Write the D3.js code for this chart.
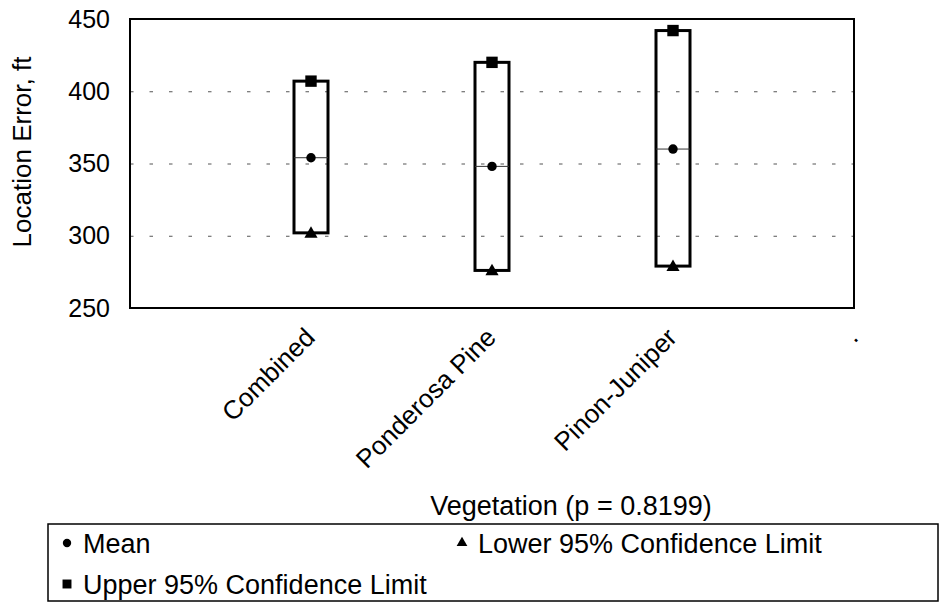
<!DOCTYPE html>
<html>
<head>
<meta charset="utf-8">
<script src="https://cdn.jsdelivr.net/npm/d3@7"></script>
<style>
  body { margin: 0; background: #fff; }
  svg text { font-family: "Liberation Sans", Arial, sans-serif; fill: #000; }
</style>
</head>
<body>
<div id="chart"></div>
<script>
// values
const tickLabels = ["", "Combined", "Ponderosa Pine", "Pinon-Juniper", "."];
const categories = ["Combined", "Ponderosa Pine", "Pinon-Juniper"];
const meanVals = [354, 348, 360];
const lowerVals = [302, 276, 279];
const upperVals = [407, 420, 442];
const yTicks = [250, 300, 350, 400, 450];
const gridVals = [300, 350, 400];
const legendLabels = ["Mean", "Lower 95% Confidence Limit", "Upper 95% Confidence Limit"];

const W = 942, H = 608;
const plot = { left: 130, right: 854, top: 19, bottom: 308 };

const svg = d3
  .select("#chart")
  .append("svg")
  .attr("width", W)
  .attr("height", H);

const x = d3
  .scalePoint()
  .domain(tickLabels)
  .range([plot.left, plot.right])
  .padding(0);

const y = d3
  .scaleLinear()
  .domain([250, 450])
  .range([plot.bottom, plot.top]);

// dashed gridlines
svg
  .append("g")
  .attr("transform", "translate(" + plot.left + ",0)")
  .call(d3.axisLeft(y).tickValues(gridVals).tickSize(-(plot.right - plot.left)).tickFormat(""))
  .call(g => g.select(".domain").remove())
  .selectAll("line")
  .attr("stroke", "#555")
  .attr("stroke-width", 1)
  .attr("stroke-dasharray", "3.5,16");

// y axis labels
svg
  .append("g")
  .attr("transform", "translate(" + plot.left + ",0)")
  .call(d3.axisLeft(y).tickValues(yTicks).tickSize(0).tickPadding(20))
  .call(g => g.select(".domain").remove())
  .selectAll("text")
  .style("font-size", "25px");

// x axis labels, rotated
svg
  .append("g")
  .attr("transform", "translate(0," + plot.bottom + ")")
  .call(d3.axisBottom(x).tickSize(0))
  .call(g => g.select(".domain").remove())
  .selectAll("text")
  .style("font-size", "26px")
  .attr("x", 0)
  .attr("y", 0)
  .attr("dy", 0)
  .attr("text-anchor", "end")
  .attr("transform", "translate(5,31) rotate(-45)");

// plot frame
svg
  .append("rect")
  .attr("x", plot.left)
  .attr("y", plot.top)
  .attr("width", plot.right - plot.left)
  .attr("height", plot.bottom - plot.top)
  .attr("fill", "none")
  .attr("stroke", "#000")
  .attr("stroke-width", 2);

const rows = categories.map((c, i) => ({
  cat: c,
  mean: meanVals[i],
  lower: lowerVals[i],
  upper: upperVals[i]
}));

const boxW = 34;

// confidence boxes
svg
  .selectAll(".ci")
  .data(rows)
  .enter()
  .append("rect")
  .attr("class", "ci")
  .attr("x", d => x(d.cat) - boxW / 2)
  .attr("y", d => y(d.upper))
  .attr("width", boxW)
  .attr("height", d => y(d.lower) - y(d.upper))
  .attr("fill", "none")
  .attr("stroke", "#000")
  .attr("stroke-width", 3);

// thin mean line across each box
svg
  .selectAll(".meanline")
  .data(rows)
  .enter()
  .append("line")
  .attr("x1", d => x(d.cat) - boxW / 2)
  .attr("x2", d => x(d.cat) + boxW / 2)
  .attr("y1", d => y(d.mean))
  .attr("y2", d => y(d.mean))
  .attr("stroke", "#333")
  .attr("stroke-width", 1);

const sym = (type, size) => d3.symbol().type(type).size(size)();

// markers
svg
  .selectAll(".upper")
  .data(rows)
  .enter()
  .append("path")
  .attr("d", sym(d3.symbolSquare, 130))
  .attr("transform", d => "translate(" + x(d.cat) + "," + y(d.upper) + ")");

svg
  .selectAll(".mean")
  .data(rows)
  .enter()
  .append("path")
  .attr("d", sym(d3.symbolCircle, 70))
  .attr("transform", d => "translate(" + x(d.cat) + "," + y(d.mean) + ")");

svg
  .selectAll(".lower")
  .data(rows)
  .enter()
  .append("path")
  .attr("d", sym(d3.symbolTriangle, 75))
  .attr("transform", d => "translate(" + x(d.cat) + "," + (y(d.lower) + 1) + ")");

// axis titles
svg
  .append("text")
  .attr("transform", "translate(31,152) rotate(-90)")
  .attr("text-anchor", "middle")
  .style("font-size", "26px")
  .text("Location Error, ft");

svg
  .append("text")
  .attr("x", 571)
  .attr("y", 515)
  .attr("text-anchor", "middle")
  .style("font-size", "27px")
  .text("Vegetation (p = 0.8199)");

// legend
const legend = svg.append("g");
legend
  .append("rect")
  .attr("x", 48)
  .attr("y", 524)
  .attr("width", 890)
  .attr("height", 77)
  .attr("fill", "none")
  .attr("stroke", "#000")
  .attr("stroke-width", 1.5);

const legendSyms = [
  sym(d3.symbolCircle, 55),
  sym(d3.symbolTriangle, 50),
  sym(d3.symbolSquare, 80)
];
const legendPos = [[67, 543], [462, 543], [67, 584]];

const item = legend
  .selectAll(".item")
  .data(legendLabels)
  .enter()
  .append("g")
  .attr("transform", (d, i) => "translate(" + legendPos[i][0] + "," + legendPos[i][1] + ")");

item.append("path").attr("d", (d, i) => legendSyms[i]);

item
  .append("text")
  .attr("x", 16)
  .attr("dy", "0.36em")
  .style("font-size", "27px")
  .text(d => d);
</script>
</body>
</html>
